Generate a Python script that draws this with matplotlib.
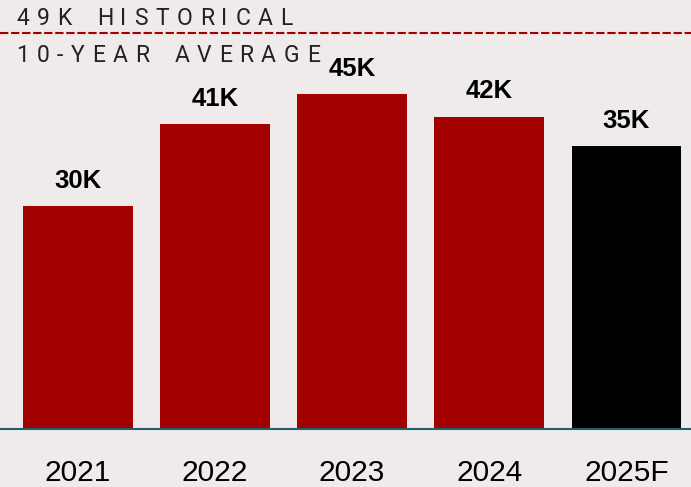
"""Annual volume bar chart with a 10-year average reference line."""

import matplotlib

matplotlib.use("Agg")
import matplotlib.pyplot as plt
from matplotlib.font_manager import FontProperties
from matplotlib.textpath import TextToPath

years = ["2021", "2022", "2023", "2024", "2025F"]
volumes = [30, 41, 45, 42, 38]  # bar heights as drawn (thousands)
value_labels = ["30K", "41K", "45K", "42K", "35K"]
bar_colors = ["#A30000", "#A30000", "#A30000", "#A30000", "#000000"]
avg_level = 53.2  # where the dashed reference line sits on the value axis
avg_title = "49K HISTORICAL"
avg_subtitle = "10-YEAR AVERAGE"

BG = "#EFEBEA"
W, H = 691, 487


def tracked_text(fig, x_px, y_px, s, size, tracking_px, space_px, color):
    """Draw text one glyph at a time so it gets wide letter spacing."""

    fp = FontProperties(family="Roboto", size=size)
    ttp = TextToPath()
    x = x_px
    for ch in s:
        if ch == " ":
            x += space_px
            continue
        w, _, _ = ttp.get_text_width_height_descent(ch, fp, ismath=False)
        fig.text(x / 100, (H - y_px) / 100, ch, fontproperties=fp, color=color,
                 ha="left", va="baseline", transform=fig.dpi_scale_trans)
        x += w * 100 / 72 + tracking_px


fig = plt.figure(figsize=(W / 100, H / 100), dpi=100, facecolor=BG)
ax = fig.add_axes([0, 1 - 429 / H, 1, 429 / H])
ax.set_facecolor(BG)

x = range(len(years))
bars = ax.bar(x, volumes, width=0.8, color=bar_colors)
ax.set_xlim(-0.566, 4.47)
ax.set_ylim(0, 57.66)

for bar, label in zip(bars, value_labels):
    ax.annotate(label, (bar.get_x() + bar.get_width() / 2, bar.get_height()),
                xytext=(0, 13), textcoords="offset points", ha="center",
                va="baseline", fontsize=18.5, fontweight="bold",
                family="Liberation Sans", color="black")

ax.axhline(avg_level, color="#A30000", lw=1.5, ls=(0, (4, 1.3)), clip_on=False)

for side in ("top", "left", "right"):
    ax.spines[side].set_visible(False)
ax.spines["bottom"].set_color("#1F5F6E")
ax.spines["bottom"].set_linewidth(1.5)

ax.set_yticks([])
ax.set_xticks(list(x))
ax.set_xticklabels(years, fontsize=21.5, family="Liberation Sans", color="black")
ax.tick_params(axis="x", length=0, pad=21.5)

tracked_text(fig, 16, 25, avg_title, 16.5, 7.5, 18, "#222222")
tracked_text(fig, 16, 62, avg_subtitle, 16.5, 7.5, 18, "#222222")

fig.savefig("out.png", dpi=100, facecolor=BG)
